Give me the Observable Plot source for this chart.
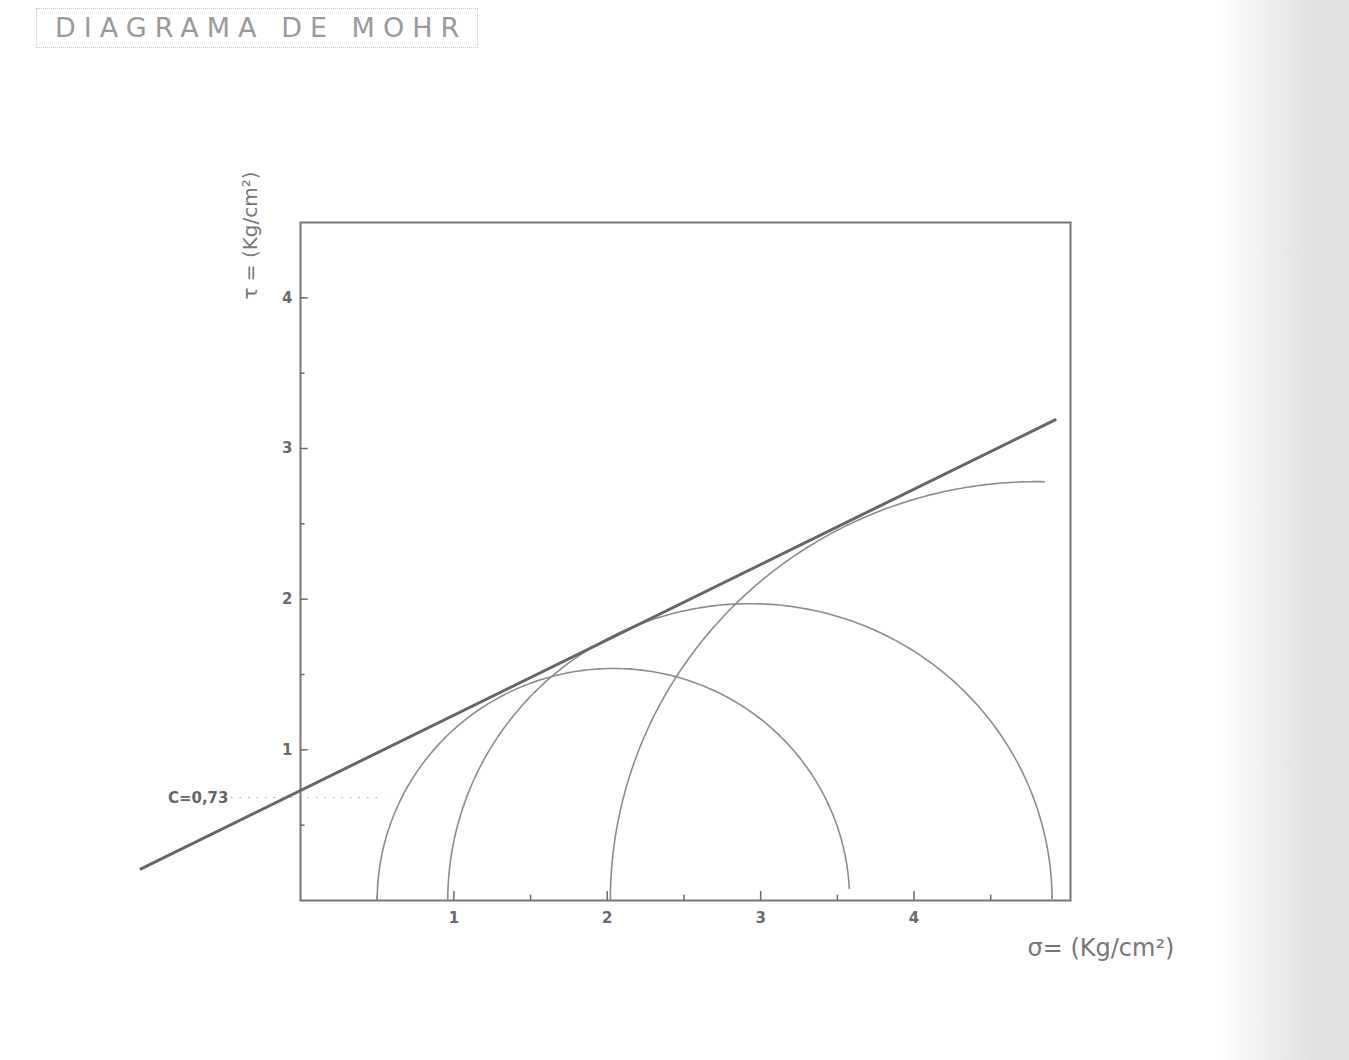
<!DOCTYPE html>
<html>
<head>
<meta charset="utf-8">
<script src="https://cdn.jsdelivr.net/npm/d3@7"></script>
<script src="https://cdn.jsdelivr.net/npm/@observablehq/plot@0.6"></script>
<style>
  html, body { margin: 0; padding: 0; background: #fff; }
  body { width: 1349px; height: 1060px; position: relative; overflow: hidden;
         font-family: "DejaVu Sans", "Liberation Sans", sans-serif; }
  #edge { position: absolute; right: 0; top: 0; width: 130px; height: 1060px;
          background: linear-gradient(to right, rgba(225,225,225,0), rgba(222,222,222,0.9) 70%); }
  #title { position: relative; height: 60px; }
  #title span { position: absolute; left: 36px; top: 8px; padding: 3px 10px 3px 18px;
                border: 1.5px dotted #c4c4c4; color: #9a9a9a; font-size: 27px;
                letter-spacing: 8px; line-height: 32px; }
  #chart { position: relative; }
</style>
</head>
<body>
<div id="edge"></div>
<div id="title"><span>DIAGRAMA DE MOHR</span></div>
<div id="chart"></div>
<script>
// Mohr circles (centre, radius in kg/cm²) and the arc span drawn for each, in degrees
const circleCenters = [2.04, 2.93, 4.80];
const circleRadii   = [1.54, 1.97, 2.78];
const arcStartDeg   = [180, 180, 180];
const arcEndDeg     = [3, 0, 89];

// Failure envelope τ = c + σ·tanφ
const cohesion = 0.73;
const envelopeSlope = 0.5;
const envelopeSigma = [-1.04, 4.92];

// Axis ticks
const sigmaTicks = [0.5, 1, 1.5, 2, 2.5, 3, 3.5, 4, 4.5];
const sigmaLabels = [1, 2, 3, 4];
const tauTicks = [0.5, 1, 1.5, 2, 2.5, 3, 3.5, 4];
const tauLabels = [1, 2, 3, 4];

// Points along each circle arc
const arcs = circleCenters.flatMap((c, i) => {
  const r = circleRadii[i];
  return d3.range(0, 181).map(k => {
    const a = (arcStartDeg[i] + (arcEndDeg[i] - arcStartDeg[i]) * k / 180) * Math.PI / 180;
    return {circle: i, sigma: c + r * Math.cos(a), tau: r * Math.sin(a)};
  });
});

const envelope = envelopeSigma.map(s => ({sigma: s, tau: cohesion + envelopeSlope * s}));

const ink = "#6a6a6a";
const chart = Plot.plot({
  width: 1349,
  height: 1000,
  marginLeft: 300,
  marginRight: 279,
  marginTop: 162,
  marginBottom: 160,
  style: {fontFamily: "DejaVu Sans, sans-serif", background: "transparent"},
  x: {domain: [0, 5.02], axis: null},
  y: {domain: [0, 4.5], axis: null},
  marks: [
    Plot.frame({stroke: "#777", strokeWidth: 2}),
    // inward ticks
    Plot.ruleX(sigmaTicks, {x: d => d, y1: 0, y2: d => Number.isInteger(d) ? 0.06 : 0.035, stroke: ink, strokeWidth: 1.5}),
    Plot.ruleY(tauTicks, {y: d => d, x1: 0, x2: d => Number.isInteger(d) ? 0.05 : 0.03, stroke: ink, strokeWidth: 1.5}),
    Plot.text(sigmaLabels, {x: d => d, y: 0, dy: 18, text: d => String(d), fill: ink, fontSize: 15, fontWeight: "bold"}),
    Plot.text(tauLabels, {x: 0, y: d => d, dx: -8, textAnchor: "end", text: d => String(d), fill: ink, fontSize: 15, fontWeight: "bold"}),
    // cohesion marker
    Plot.ruleY([cohesion], {x1: -0.45, x2: 0.55, dy: 7, stroke: "#aaa", strokeDasharray: "1.5,7"}),
    Plot.text([`C=0,${Math.round(cohesion * 100)}`], {x: 0, y: cohesion, dx: -72, dy: 8, textAnchor: "end", fill: "#666", fontSize: 15, fontWeight: "bold"}),
    // Mohr circles
    Plot.line(arcs, {x: "sigma", y: "tau", z: "circle", stroke: "#8c8c8c", strokeWidth: 1.6}),
    // failure envelope
    Plot.line(envelope, {x: "sigma", y: "tau", stroke: "#666", strokeWidth: 3}),
    // axis titles
    Plot.text(["τ = (Kg/cm²)"], {frameAnchor: "top-left", dx: -58, dy: 13, rotate: -90, textAnchor: "middle", fill: "#777", fontSize: 20}),
    Plot.text(["σ= (Kg/cm²)"], {frameAnchor: "bottom-right", dx: -43, dy: 55, textAnchor: "start", fill: "#777", fontSize: 24})
  ]
});
document.getElementById("chart").appendChild(chart);
</script>
</body>
</html>
